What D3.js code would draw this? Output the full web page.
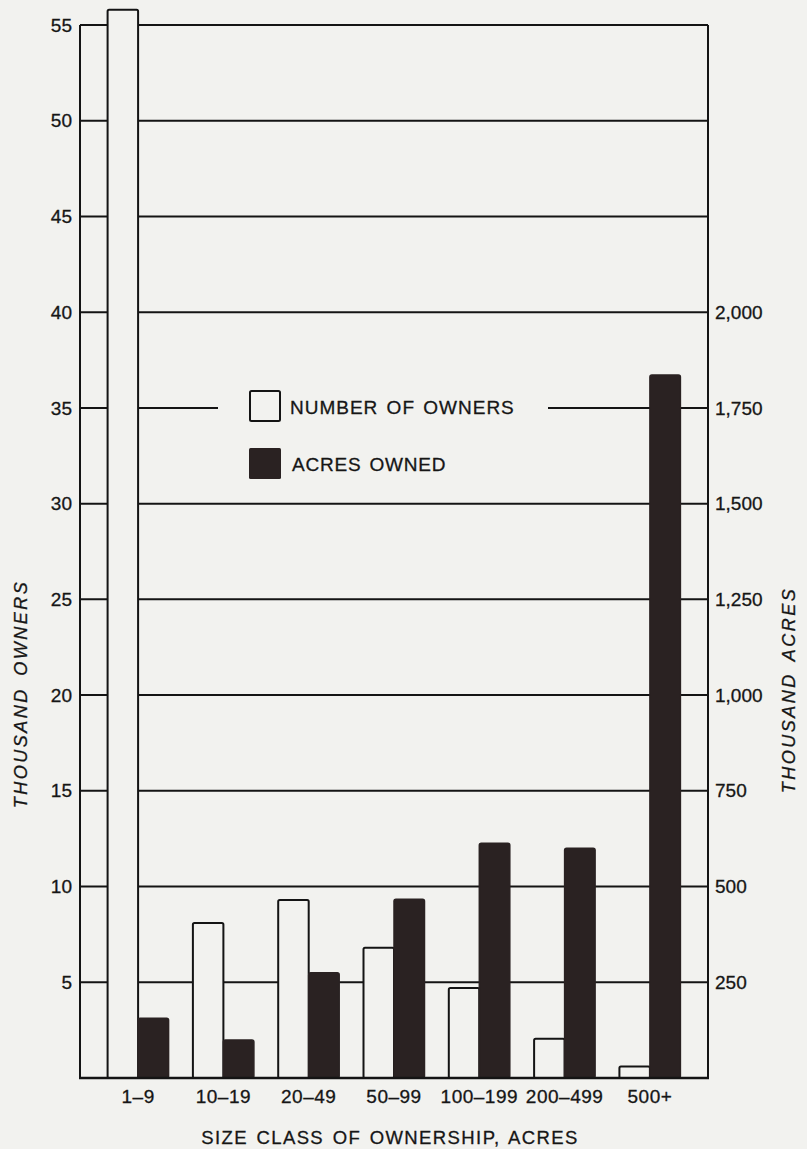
<!DOCTYPE html>
<html>
<head>
<meta charset="utf-8">
<script src="https://cdn.jsdelivr.net/npm/d3@7"></script>
<style>
  html, body { margin: 0; padding: 0; background: #f2f2ef; }
  svg { display: block; }
  text { font-family: "Liberation Sans", Arial, Helvetica, sans-serif; fill: #161616; stroke: #161616; stroke-width: 0.3px; }
</style>
</head>
<body>
<script>
// ---- data ----
const categories = ["1–9", "10–19", "20–49", "50–99", "100–199", "200–499", "500+"];
const owners = [55.8, 8.1, 9.3, 6.8, 4.7, 2.05, 0.6];        // thousand owners
const acres = [156, 99, 275, 467, 613, 600, 1836];            // thousand acres
const ownerTicks = [5, 10, 15, 20, 25, 30, 35, 40, 45, 50, 55];
const acreTicks = [250, 500, 750, 1000, 1250, 1500, 1750, 2000];
const seriesNames = ["NUMBER OF OWNERS", "ACRES OWNED"];

const W = 807, H = 1149;
const pLeft = 80, pRight = 708, pTop = 25, pBottom = 1078;
const bg = "#f2f2ef", ink = "#141414", dark = "#2a2222";

const svg = d3.select("body").append("svg").attr("width", W).attr("height", H);
svg.append("rect").attr("width", W).attr("height", H).attr("fill", bg);

const x = d3.scaleBand().domain(categories).range([pLeft, pRight]).paddingInner(0.285).paddingOuter(0.3235);
const xs = d3.scaleBand().domain([0, 1]).range([0, x.bandwidth()]);
const y = d3.scaleLinear().domain([0, 55]).range([pBottom, pTop]);
const y2 = d3.scaleLinear().domain([0, 2750]).range([pBottom, pTop]);

// gridlines
svg.append("g").selectAll("line").data(ownerTicks).join("line")
  .attr("x1", pLeft).attr("x2", pRight)
  .attr("y1", d => y(d)).attr("y2", d => y(d))
  .attr("stroke", ink).attr("stroke-width", 2);

// legend mask over the gridline
svg.append("rect").attr("x", 218).attr("y", 385).attr("width", 330).attr("height", 105).attr("fill", bg);

// bars
const g = svg.append("g");
g.selectAll("rect.own").data(categories).join("rect").attr("class", "own")
  .attr("x", d => x(d) + xs(0)).attr("width", xs.bandwidth())
  .attr("y", (d, i) => y(owners[i])).attr("height", (d, i) => pBottom - y(owners[i]))
  .attr("fill", bg).attr("stroke", ink).attr("stroke-width", 2).attr("rx", 1.5);
g.selectAll("rect.acr").data(categories).join("rect").attr("class", "acr")
  .attr("x", d => x(d) + xs(1)).attr("width", xs.bandwidth())
  .attr("y", (d, i) => y2(acres[i])).attr("height", (d, i) => pBottom - y2(acres[i]))
  .attr("fill", dark).attr("stroke", dark).attr("stroke-width", 1.5).attr("rx", 2);

// axis lines
svg.append("line").attr("x1", pLeft).attr("x2", pLeft).attr("y1", pTop).attr("y2", pBottom).attr("stroke", ink).attr("stroke-width", 2);
svg.append("line").attr("x1", pRight).attr("x2", pRight).attr("y1", pTop).attr("y2", pBottom).attr("stroke", ink).attr("stroke-width", 2);
svg.append("line").attr("x1", pLeft - 1).attr("x2", pRight + 1).attr("y1", pBottom).attr("y2", pBottom).attr("stroke", ink).attr("stroke-width", 2.5);

// left axis
const la = svg.append("g").attr("transform", `translate(${pLeft},0)`)
  .call(d3.axisLeft(y).tickValues(ownerTicks).tickSize(0).tickPadding(8));
la.select(".domain").remove();
la.selectAll("text").style("font-size", "19px");

// right axis
const ra = svg.append("g").attr("transform", `translate(${pRight},0)`)
  .call(d3.axisRight(y2).tickValues(acreTicks).tickSize(0).tickPadding(7).tickFormat(d3.format(",")));
ra.select(".domain").remove();
ra.selectAll("text").style("font-size", "19px");

// bottom axis
const ba = svg.append("g").attr("transform", `translate(0,${pBottom})`)
  .call(d3.axisBottom(x).tickSize(0).tickPadding(12));
ba.select(".domain").remove();
ba.selectAll("text").style("font-size", "19px").style("letter-spacing", "0.5px");

// titles
svg.append("text").attr("x", 390).attr("y", 1144).attr("text-anchor", "middle")
  .style("font-size", "18.5px").style("letter-spacing", "1.4px").style("word-spacing", "2px")
  .text("SIZE CLASS OF OWNERSHIP, ACRES");
svg.append("text").attr("transform", "translate(27,694) rotate(-90)").attr("text-anchor", "middle")
  .style("font-size", "18px").style("font-style", "italic").style("letter-spacing", "2.5px").style("word-spacing", "4px")
  .text("THOUSAND OWNERS");
svg.append("text").attr("transform", "translate(795,690) rotate(-90)").attr("text-anchor", "middle")
  .style("font-size", "18px").style("font-style", "italic").style("letter-spacing", "2.5px").style("word-spacing", "4px")
  .text("THOUSAND ACRES");

// legend
const lg = svg.append("g");
lg.append("rect").attr("x", 250).attr("y", 391).attr("width", 30).attr("height", 30)
  .attr("fill", bg).attr("stroke", ink).attr("stroke-width", 2).attr("rx", 1.5);
lg.append("rect").attr("x", 249).attr("y", 448).attr("width", 32).attr("height", 31)
  .attr("fill", dark).attr("rx", 1.5);
lg.append("text").attr("x", 290).attr("y", 414).style("font-size", "19px").style("letter-spacing", "1px").style("word-spacing", "2px").text(seriesNames[0]);
lg.append("text").attr("x", 292).attr("y", 471).style("font-size", "19px").style("letter-spacing", "0.8px").style("word-spacing", "2px").text(seriesNames[1]);
</script>
</body>
</html>
